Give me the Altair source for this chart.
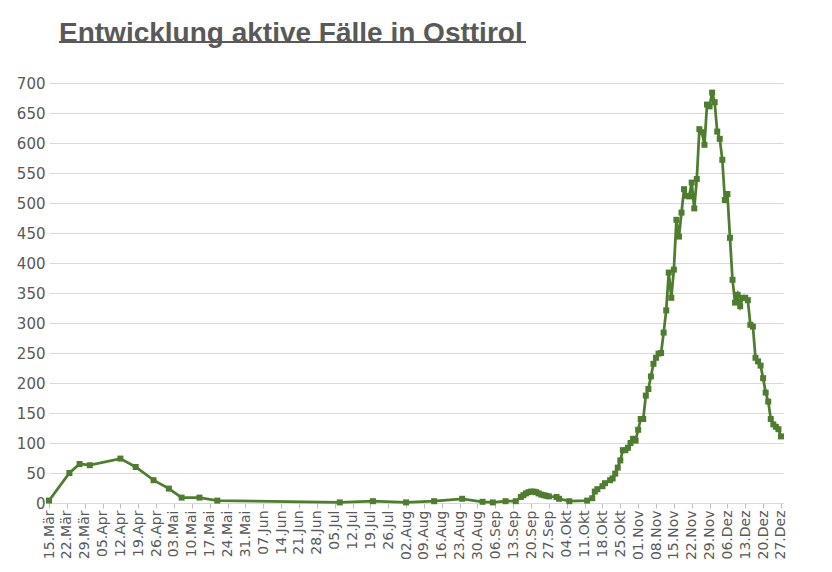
import altair as alt
import pandas as pd

# ---- data ----
early_dates = [
    "2020-03-15", "2020-03-23", "2020-03-27", "2020-03-31", "2020-04-12",
    "2020-04-18", "2020-04-25", "2020-05-01", "2020-05-06", "2020-05-13",
    "2020-05-20", "2020-07-07", "2020-07-20", "2020-08-02", "2020-08-13",
    "2020-08-24", "2020-09-01", "2020-09-05", "2020-09-10", "2020-09-14",
    "2020-09-16", "2020-09-17", "2020-09-18", "2020-09-19", "2020-09-20",
    "2020-09-21", "2020-09-22", "2020-09-23", "2020-09-24", "2020-09-25",
    "2020-09-26", "2020-09-27", "2020-09-30", "2020-10-01", "2020-10-05",
]
early_values = [
    4, 50, 65, 63, 74,
    60, 38, 24, 9, 9,
    4, 1, 3, 1, 3,
    7, 2, 1, 3, 3,
    10, 13, 16, 18, 19,
    19, 18, 16, 14, 13,
    12, 11, 10, 7, 3,
]

late_dates = [
    "2020-10-12", "2020-10-14", "2020-10-15", "2020-10-16", "2020-10-18",
    "2020-10-19", "2020-10-21", "2020-10-22", "2020-10-23", "2020-10-24",
    "2020-10-25", "2020-10-26", "2020-10-27", "2020-10-28", "2020-10-29",
    "2020-10-30", "2020-10-31",
    "2020-11-01", "2020-11-02", "2020-11-03", "2020-11-04", "2020-11-05",
    "2020-11-06", "2020-11-07", "2020-11-08", "2020-11-09", "2020-11-10",
    "2020-11-11", "2020-11-12", "2020-11-13", "2020-11-14", "2020-11-15",
    "2020-11-16", "2020-11-17", "2020-11-18", "2020-11-19", "2020-11-20",
    "2020-11-21", "2020-11-22", "2020-11-23", "2020-11-24", "2020-11-25",
    "2020-11-26", "2020-11-27", "2020-11-28", "2020-11-29", "2020-11-30",
    "2020-12-01", "2020-12-02", "2020-12-03", "2020-12-04", "2020-12-05",
    "2020-12-06", "2020-12-07", "2020-12-08", "2020-12-09", "2020-12-10",
    "2020-12-11", "2020-12-12", "2020-12-13", "2020-12-14", "2020-12-15",
    "2020-12-16", "2020-12-17", "2020-12-18", "2020-12-19", "2020-12-20",
    "2020-12-21", "2020-12-22", "2020-12-23", "2020-12-24", "2020-12-25",
    "2020-12-26", "2020-12-27",
]
late_values = [
    4, 8, 19, 23, 28,
    33, 38, 41, 49, 59,
    71, 88, 88, 92, 100,
    107, 104,
    122, 140, 140, 179, 190,
    211, 232, 242, 249, 250,
    284, 321, 384, 342, 389,
    472, 444, 484, 523, 512,
    511, 534, 491, 540, 623,
    618, 597, 664, 661, 684,
    668, 619, 607, 572, 505,
    515, 442, 372, 334, 347,
    328, 342, 342, 338, 297,
    294, 242, 236, 229, 208,
    184, 169, 140, 131, 127,
    123, 111,
]

tick_dates = [
    "2020-03-15", "2020-03-22", "2020-03-29",
    "2020-04-05", "2020-04-12", "2020-04-19", "2020-04-26",
    "2020-05-03", "2020-05-10", "2020-05-17", "2020-05-24", "2020-05-31",
    "2020-06-07", "2020-06-14", "2020-06-21", "2020-06-28",
    "2020-07-05", "2020-07-12", "2020-07-19", "2020-07-26",
    "2020-08-02", "2020-08-09", "2020-08-16", "2020-08-23", "2020-08-30",
    "2020-09-06", "2020-09-13", "2020-09-20", "2020-09-27",
    "2020-10-04", "2020-10-11", "2020-10-18", "2020-10-25",
    "2020-11-01", "2020-11-08", "2020-11-15", "2020-11-22", "2020-11-29",
    "2020-12-06", "2020-12-13", "2020-12-20", "2020-12-27",
]
month_names = ["Jan", "Feb", "Mär", "Apr", "Mai", "Jun",
               "Jul", "Aug", "Sep", "Okt", "Nov", "Dez"]
y_ticks = [0, 50, 100, 150, 200, 250, 300, 350, 400, 450, 500, 550, 600, 650, 700]
title_text = "Entwicklung aktive Fälle in Osttirol"

df = pd.DataFrame({"date": early_dates + late_dates,
                   "value": early_values + late_values})


def ms(d):
    return int(pd.Timestamp(d, tz="UTC").timestamp() * 1000)


GREEN = "#4e7d2f"
GRAY = "#595959"
GRID = "#d9d9d9"

month_js = "[" + ",".join("'" + m + "'" for m in month_names) + "]"
label_expr = "utcFormat(datum.value, '%d') + '.' + " + month_js + "[utcmonth(datum.value)]"

x_enc = alt.X(
    "date:T",
    scale=alt.Scale(type="utc",
                    domain=[ms("2020-03-15"), ms("2020-12-27") + 19 * 3600 * 1000]),
    axis=alt.Axis(
        values=[ms(d) for d in tick_dates],
        labelExpr=label_expr,
        labelAngle=270,
        labelFont="DejaVu Sans",
        labelFontSize=14,
        labelColor=GRAY,
        labelPadding=2,
        labelFlush=False,
        labelOverlap=False,
        grid=False,
        ticks=True,
        tickSize=5,
        tickColor="#bfbfbf",
        domainColor=GRID,
        title=None,
    ),
)
y_enc = alt.Y(
    "value:Q",
    scale=alt.Scale(domain=[0, 700], nice=False),
    axis=alt.Axis(
        values=y_ticks,
        grid=True,
        gridColor=GRID,
        gridWidth=1,
        ticks=False,
        tickSize=0,
        domain=False,
        labelFont="DejaVu Sans",
        labelFontSize=15,
        labelColor=GRAY,
        labelPadding=4,
        title=None,
    ),
)

line = alt.Chart(df).mark_line(
    color=GREEN,
    strokeWidth=2.75,
    point=alt.OverlayMarkDef(shape="square", size=36, filled=True,
                             color=GREEN, opacity=1),
).encode(x=x_enc, y=y_enc)

underline = alt.Chart(pd.DataFrame({"u": [0]})).mark_rule(
    color=GRAY, strokeWidth=2
).encode(x=alt.value(10), x2=alt.value(477), y=alt.value(-41))

chart = alt.layer(line, underline).properties(
    width=734,
    height=420,
    title=alt.Title(title_text, font="Liberation Sans", fontSize=28,
                    fontWeight="bold", color=GRAY, anchor="start",
                    frame="group", dx=10, offset=0, dy=7),
    autosize=alt.AutoSizeParams(type="none"),
    padding={"left": 41, "top": 75, "right": 40, "bottom": 62},
    background="white",
).configure_view(stroke=None)

chart.save("out.html", embed_options={"renderer": "svg", "actions": False})
